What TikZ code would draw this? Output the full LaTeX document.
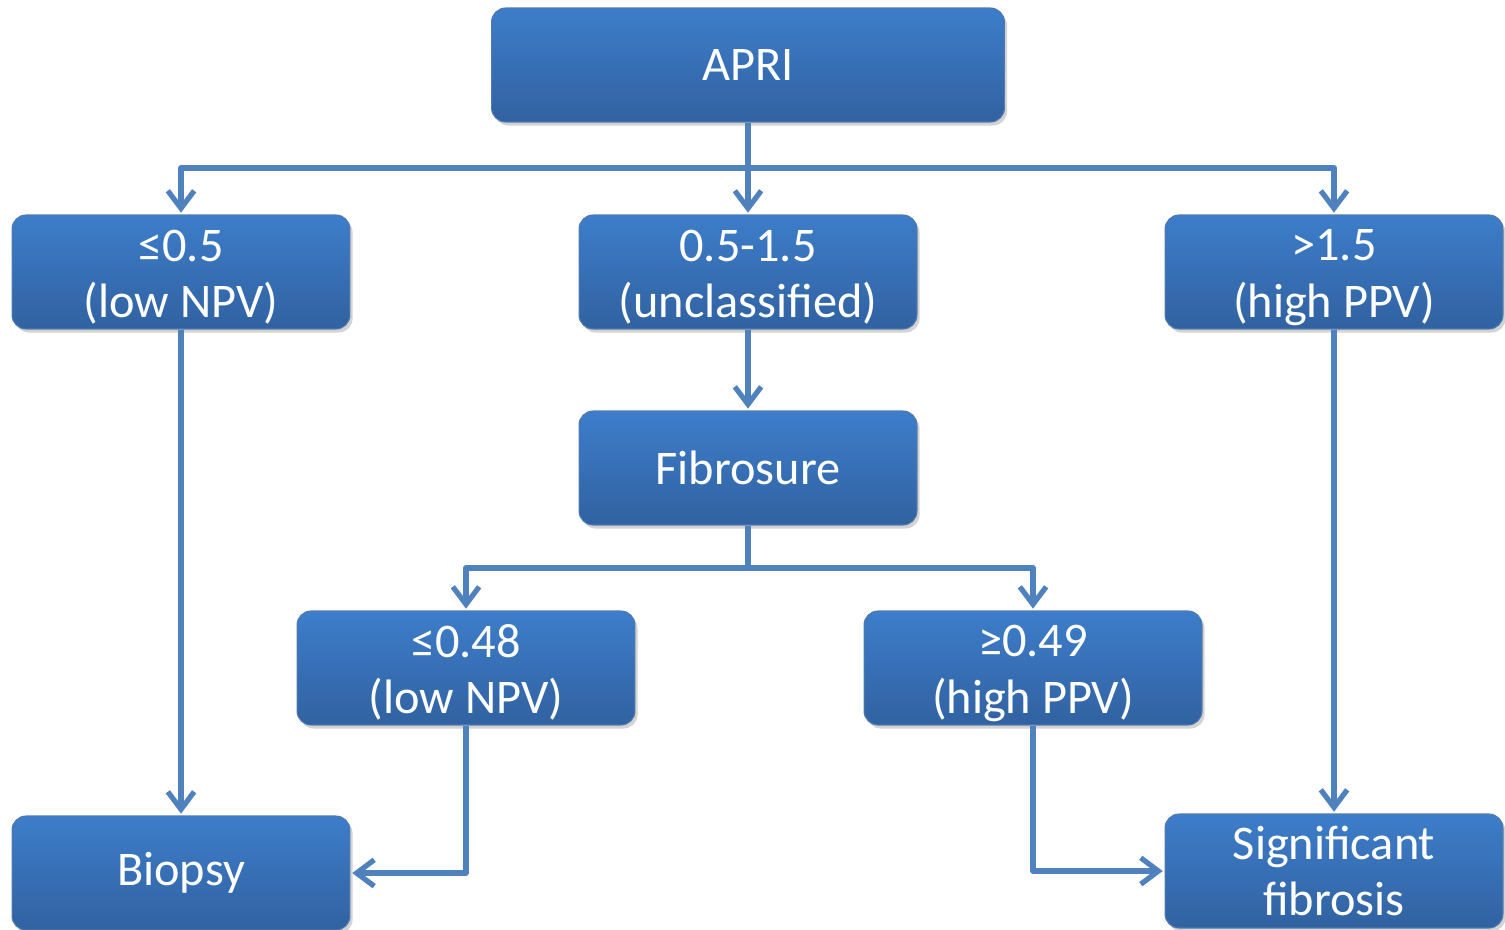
\documentclass[tikz,border=0pt]{standalone}
\usepackage{fontspec}
\setmainfont{Carlito}
\usepackage{xcolor}
\usepackage{tikz}
\usetikzlibrary{positioning, arrows.meta, shadows, calc}
\definecolor{boxTopColor}{HTML}{3D7DCA}
\definecolor{boxBottomColor}{HTML}{3162A1}
\definecolor{lineColor}{HTML}{4F81BD}
\newcommand{\firstline}{\rule{0pt}{24pt}}

\begin{document}
\begin{tikzpicture}[
  x=0.02cm, y=-0.02cm,
  box/.style={
    rectangle,
    draw=boxBottomColor!85!white,
    line width=0.6pt,
    top color=boxTopColor,
    bottom color=boxBottomColor,
    rounded corners=8pt,
    drop shadow={shadow xshift=1.5pt, shadow yshift=-2pt, opacity=0.35},
    minimum width=6.76cm,
    minimum height=2.28cm,
    align=center,
    text=white,
    inner sep=2pt,
    font=\fontsize{27.5}{32}\selectfont
  },
  arrow/.style={
    -{Straight Barb[length=10pt, width=15pt, line width=3pt]},
    line width=3pt,
    draw=lineColor,
    line join=round,
    shorten >=1pt
  }
]
  \useasboundingbox (0,0) rectangle (1505,930);

  % Define nodes
  \node[box, minimum width=10.26cm] (apri) at (748,65) {APRI};
  \node[box] (lowA) at (181,272) {\firstline ≤0.5\\(low NPV)};
  \node[box] (midA) at (748,272) {\firstline 0.5-1.5\\(unclassified)};
  \node[box] (highA) at (1334,272) {\firstline >1.5\\(high PPV)};
  \node[box] (fibro) at (748,468) {Fibrosure};
  \node[box] (lowF) at (466,668) {\firstline ≤0.48\\(low NPV)};
  \node[box] (highF) at (1033,668) {\firstline ≥0.49\\(high PPV)};
  \node[box] (biopsy) at (181,873) {Biopsy};
  \node[box] (sig) at (1334,871) {Significant\\fibrosis};

  \coordinate (forkA) at (748,168);
  \coordinate (forkF) at (748,568);

  % Connect nodes with arrows
  \draw[arrow] (apri.south) -- (forkA) -| (lowA.north);
  \draw[arrow] (apri.south) -- (midA.north);
  \draw[arrow] (apri.south) -- (forkA) -| (highA.north);
  \draw[arrow] (midA.south) -- (fibro.north);
  \draw[arrow] (fibro.south) -- (forkF) -| (lowF.north);
  \draw[arrow] (fibro.south) -- (forkF) -| (highF.north);
  \draw[arrow] (lowA.south) -- (biopsy.north);
  \draw[arrow] (highA.south) -- (sig.north);
  \draw[arrow] (lowF.south) |- (biopsy.east);
  \draw[arrow] (highF.south) |- (sig.west);
\end{tikzpicture}
\end{document}
